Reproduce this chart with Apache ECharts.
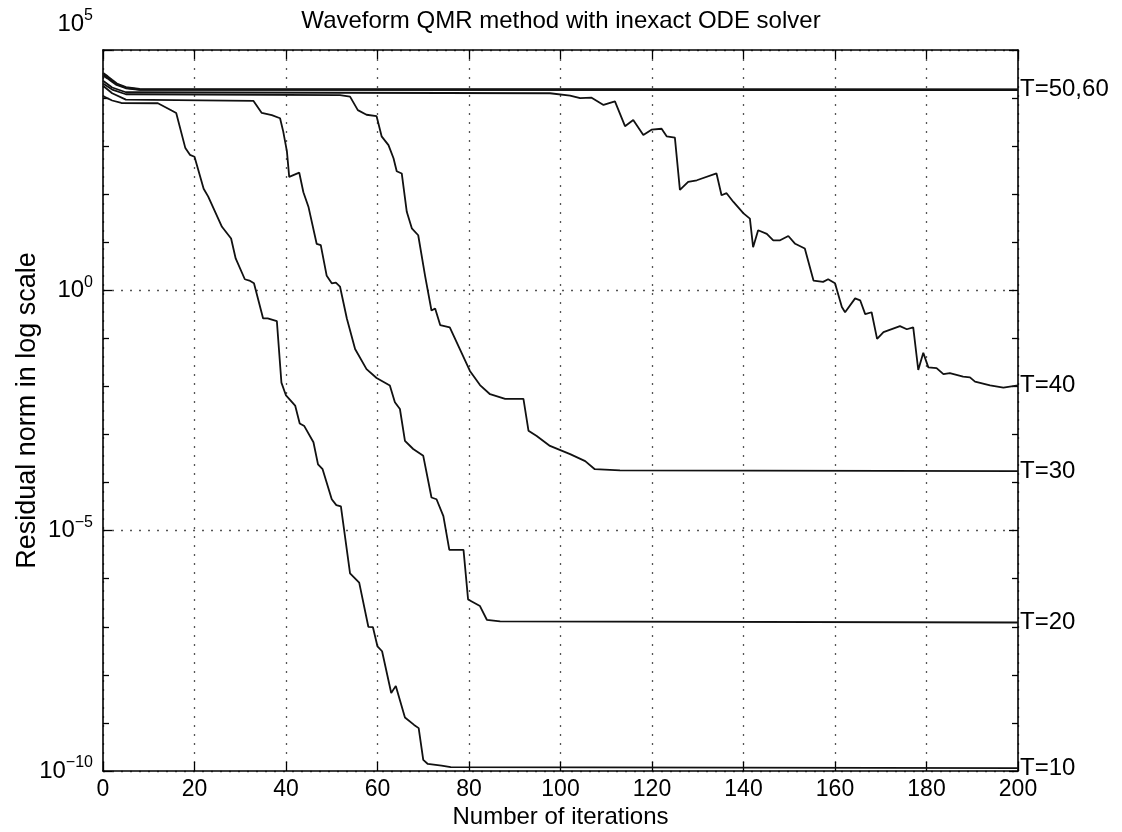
<!DOCTYPE html>
<html>
<head>
<meta charset="utf-8">
<script src="https://cdn.jsdelivr.net/npm/echarts@6/dist/echarts.min.js"></script>
<style>
html,body{margin:0;padding:0;background:#fff;}
#chart{width:1122px;height:832px;}
</style>
</head>
<body>
<div id="chart"></div>
<script>
// ---- data (iteration number, residual norm) ----
const titleText = 'Waveform QMR method with inexact ODE solver';
const xTicks = [0, 20, 40, 60, 80, 100, 120, 140, 160, 180, 200];
const yTickExponents = [-10, -5, 0, 5];

const iterT10 = [0, 2, 4, 12, 15, 16, 18, 19, 20, 22, 23, 26, 28, 29, 31, 32, 33, 35, 36, 38, 39, 40, 42, 43, 44, 46, 47, 48, 50, 51, 52, 54, 56, 58, 59, 60, 61, 63, 64, 66, 68, 69, 70, 71, 74, 76, 200];
const resT10 = [1.1e4, 8.9e3, 7.9e3, 7.8e3, 5.5e3, 4.9e3, 9.1e2, 6.6e2, 6.0e2, 1.3e2, 89, 21, 12, 4.6, 1.7, 1.6, 1.4, 0.26, 0.26, 0.23, 1.2e-2, 6.5e-3, 4.0e-3, 1.7e-3, 1.5e-3, 6.9e-4, 2.4e-4, 1.9e-4, 4.5e-5, 3.4e-5, 3.2e-5, 1.3e-6, 8.3e-7, 1.0e-7, 9.8e-8, 3.9e-8, 3.1e-8, 4.2e-9, 5.9e-9, 1.3e-9, 9.1e-10, 7.8e-10, 1.7e-10, 1.4e-10, 1.3e-10, 1.2e-10, 1.15e-10];

const iterT20 = [0, 2, 5, 32.9, 34.7, 36.9, 38.7, 39.4, 40.2, 40.7, 42.9, 43.8, 44.9, 46.7, 47.6, 48.9, 50.0, 50.9, 51.8, 53.3, 55.1, 57.6, 59.8, 62.7, 63.8, 64.9, 66.0, 67.8, 70.0, 71.8, 72.9, 74.4, 75.7, 78.8, 79.8, 82.4, 83.9, 86.8, 200];
const resT20 = [1.8e4, 1.26e4, 9.3e3, 8.7e3, 4.9e3, 4.4e3, 3.8e3, 2.0e3, 7.8e2, 2.3e2, 2.8e2, 1.1e2, 55, 9.3, 8.7, 2.0, 1.4, 1.45, 1.2, 0.26, 6.0e-2, 2.3e-2, 1.5e-2, 1.05e-2, 4.7e-3, 3.4e-3, 7.4e-4, 5.0e-4, 3.6e-4, 4.9e-5, 4.5e-5, 2.0e-5, 4.0e-6, 4.0e-6, 3.7e-7, 2.7e-7, 1.4e-7, 1.3e-7, 1.23e-7];

const iterT30 = [0, 2, 5, 51.8, 54.0, 55.7, 57.6, 59.8, 60.9, 62.4, 63.5, 64.2, 65.3, 66.4, 67.5, 68.9, 70.4, 71.8, 72.6, 73.7, 75.8, 78.0, 80.2, 82.4, 84.6, 87.9, 91.9, 93.0, 94.8, 97.7, 102.1, 105.4, 107.5, 113, 200];
const resT30 = [2.0e4, 1.5e4, 1.2e4, 1.15e4, 1.07e4, 5.6e3, 4.5e3, 4.2e3, 1.6e3, 1.05e3, 5.6e2, 3.0e2, 2.7e2, 43, 19.5, 14, 2.0, 0.38, 0.42, 0.19, 0.17, 6.0e-2, 2.1e-2, 1.07e-2, 6.9e-3, 5.5e-3, 5.5e-3, 1.2e-3, 9.3e-4, 5.8e-4, 3.9e-4, 2.8e-4, 1.9e-4, 1.8e-4, 1.74e-4];

const iterT40 = [0, 2, 5, 97.7, 102.1, 104.3, 106.8, 109.4, 111.9, 114.1, 115.9, 118.1, 119.9, 122.1, 123.2, 125.0, 126.1, 127.9, 129.8, 134.1, 135.2, 136.3, 137.8, 140.0, 141.4, 142.1, 143.2, 145.1, 146.5, 148.0, 149.8, 151.3, 153.4, 155.3, 157.4, 158.5, 160.0, 161.5, 162.2, 164.4, 165.5, 166.6, 168.0, 169.2, 170.6, 172.7, 174.2, 175.7, 177.1, 178.2, 179.3, 180.4, 182.2, 183.7, 185.1, 188.0, 189.5, 190.6, 193.9, 196.8, 200];
const resT40 = [2.3e4, 1.66e4, 1.32e4, 1.26e4, 1.12e4, 1.0e4, 1.02e4, 7.2e3, 8.5e3, 2.6e3, 3.5e3, 1.7e3, 2.2e3, 2.3e3, 1.6e3, 1.5e3, 1.23e2, 1.8e2, 1.95e2, 2.7e2, 95, 1.05e2, 69, 40, 31, 7.9, 17.8, 15, 11, 11, 13.5, 9.3, 7.4, 1.6, 1.5, 1.7, 1.4, 0.45, 0.35, 0.68, 0.62, 0.32, 0.35, 9.8e-2, 0.135, 0.16, 0.18, 0.155, 0.17, 2.2e-2, 5.0e-2, 2.5e-2, 2.4e-2, 1.8e-2, 1.9e-2, 1.6e-2, 1.55e-2, 1.26e-2, 1.05e-2, 9.5e-3, 1.05e-2];

const iterT50 = [0, 1, 2, 3, 5, 8, 200];
const resT50 = [3.0e4, 2.6e4, 2.2e4, 1.9e4, 1.62e4, 1.5e4, 1.48e4];
const iterT60 = [0, 1, 2, 3, 5, 8, 200];
const resT60 = [3.3e4, 2.8e4, 2.35e4, 1.98e4, 1.66e4, 1.53e4, 1.5e4];

const seriesDefs = [
  {name: 'T=10', iter: iterT10, res: resT10, label: 'T=10', width: 1.8},
  {name: 'T=20', iter: iterT20, res: resT20, label: 'T=20', width: 1.8},
  {name: 'T=30', iter: iterT30, res: resT30, label: 'T=30', width: 1.8},
  {name: 'T=40', iter: iterT40, res: resT40, label: 'T=40', width: 1.8},
  {name: 'T=50', iter: iterT50, res: resT50, label: null, width: 2.4},
  {name: 'T=60', iter: iterT60, res: resT60, label: 'T=50,60', width: 2.4}
];

// ---- chart ----
const FONT = '"Liberation Sans", Arial, Helvetica, sans-serif';
const chart = echarts.init(document.getElementById('chart'), null, {renderer: 'canvas'});

function expLabel(v) {
  const e = Math.round(v);
  if (yTickExponents.indexOf(e) < 0) return '';
  const s = e < 0 ? '\u2212' + (-e) : String(e);
  if (e === 5) return '{bt|10}{st|' + s + '}';
  return '{b|10}{s|' + s + '}';
}

const gridLine = {show: true, lineStyle: {color: '#555', width: 1.3, type: [2, 7]}};
const frameLine = {show: true, onZero: false, lineStyle: {color: '#000', width: 1.6}};
const inTick = {show: true, inside: true, length: 9, lineStyle: {color: '#000', width: 1.3}};
const inMinor = {show: true, splitNumber: 5, length: 6, lineStyle: {color: '#000', width: 1.3}};

const series = seriesDefs.map(d => ({
  name: d.name,
  type: 'line',
  xAxisIndex: 0,
  yAxisIndex: 0,
  symbol: 'none',
  animation: false,
  silent: true,
  data: d.iter.map((x, i) => [x, Math.log10(d.res[i])]),
  lineStyle: {color: '#111', width: d.width},
  endLabel: d.label ? {
    show: true,
    formatter: d.label,
    color: '#000',
    fontSize: 24,
    fontFamily: FONT,
    distance: 2
  } : {show: false}
}));

chart.setOption({
  animation: false,
  backgroundColor: '#fff',
  title: {
    text: titleText,
    left: 'center',
    top: 4,
    textStyle: {fontSize: 24, fontWeight: 'normal', color: '#000', fontFamily: FONT}
  },
  grid: {left: 103, right: 104, top: 50, bottom: 61, containLabel: false, outerBoundsMode: 'none'},
  xAxis: [
    {
      type: 'value', min: 0, max: 200, interval: 20, position: 'bottom',
      axisLine: frameLine,
      axisTick: inTick,
      axisLabel: {fontSize: 23, color: '#000', fontFamily: FONT, margin: 7},
      splitLine: gridLine,
      name: 'Number of iterations', nameLocation: 'middle', nameGap: 34, nameMoveOverlap: false,
      nameTextStyle: {fontSize: 24, color: '#000', fontFamily: FONT}
    },
    {
      type: 'value', min: 0, max: 200, interval: 20, position: 'top',
      axisLine: frameLine,
      axisTick: inTick,
      axisLabel: {show: false},
      splitLine: {show: false}
    }
  ],
  yAxis: [
    {
      type: 'value', min: -10, max: 5, interval: 5, position: 'left',
      axisLine: frameLine,
      axisTick: inTick,
      minorTick: inMinor,
      axisLabel: {
        formatter: expLabel, margin: 10, color: '#000',
        rich: {
          b: {fontSize: 24, fontFamily: FONT, color: '#000'},
          s: {fontSize: 16, fontFamily: FONT, color: '#000', verticalAlign: 'top', padding: [0, 0, 16, 0]},
          bt: {fontSize: 24, fontFamily: FONT, color: '#000', padding: [0, 0, 52, 0]},
          st: {fontSize: 16, fontFamily: FONT, color: '#000', verticalAlign: 'top', padding: [0, 0, 68, 0]}
        }
      },
      splitLine: gridLine,
      name: 'Residual norm in log scale', nameLocation: 'middle', nameGap: 62, nameMoveOverlap: false,
      nameTextStyle: {fontSize: 27, color: '#000', fontFamily: FONT}
    },
    {
      type: 'value', min: -10, max: 5, interval: 5, position: 'right',
      axisLine: frameLine,
      axisTick: inTick,
      minorTick: inMinor,
      axisLabel: {show: false},
      splitLine: {show: false}
    }
  ],
  series: series
});
</script>
</body>
</html>
